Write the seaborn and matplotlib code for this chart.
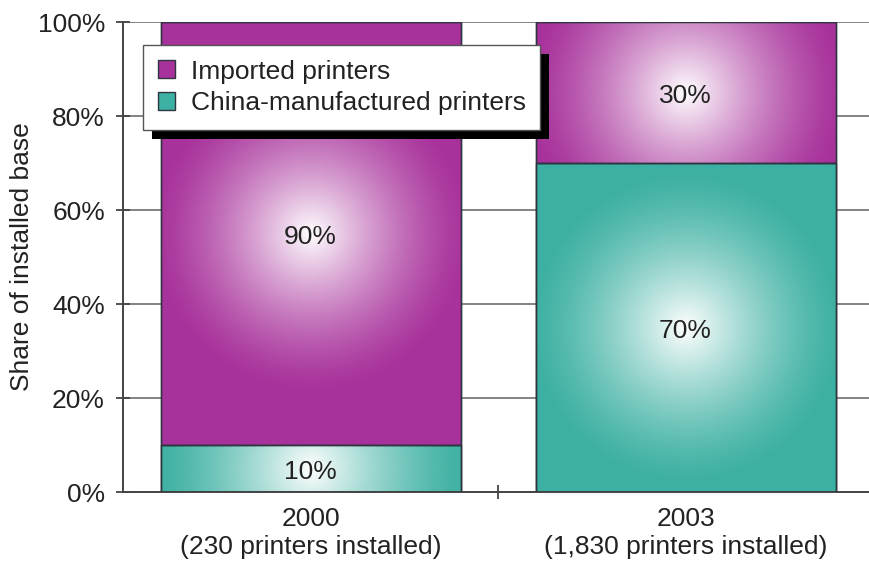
import numpy as np
import pandas as pd
import matplotlib
matplotlib.use("Agg")
import matplotlib.pyplot as plt
import seaborn as sns
from matplotlib.patches import Patch, Rectangle
from matplotlib.transforms import IdentityTransform

# Data
years = ["2000", "2003"]
installed = ["230", "1,830"]
china_share = [10, 70]
imported_share = [90, 30]

PURPLE = "#A8329B"
TEAL = "#3CB0A2"
EDGE = "#2E3440"

sns.set_style("white")
plt.rcParams["font.family"] = ["Liberation Sans", "DejaVu Sans"]
plt.rcParams["font.size"] = 19

labels = [f"{y}\n({n} printers installed)" for y, n in zip(years, installed)]
df = pd.DataFrame({
    "year": labels,
    "china": china_share,
    "imported": imported_share,
})
df["total"] = df["china"] + df["imported"]

fig = plt.figure(figsize=(8.69, 5.65), dpi=100)
ax = fig.add_axes([123 / 869, 73 / 565, 750 / 869, 470 / 565])

# stacked bars: total (imported on top) then china at the bottom
sns.barplot(data=df, x="year", y="total", color=PURPLE, saturation=1,
            width=0.8, edgecolor=EDGE, linewidth=1, ax=ax)
sns.barplot(data=df, x="year", y="china", color=TEAL, saturation=1,
            width=0.8, edgecolor=EDGE, linewidth=1, ax=ax)

ax.set_xlim(-0.5, 1.5)
ax.set_ylim(0, 100)
ax.set_yticks(range(0, 101, 20))
ax.set_yticklabels([f"{v}%" for v in range(0, 101, 20)], color="#222222")
ax.set_xlabel("")
ax.set_ylabel("Share of installed base", color="#222222")
ax.yaxis.set_label_coords(-0.118, 0.5)

ax.set_axisbelow(True)
ax.grid(axis="y", color="#7a7a7a", linewidth=1.3)
ax.grid(axis="x", visible=False)
for s in ["top", "right"]:
    ax.spines[s].set_visible(False)
for s in ["left", "bottom"]:
    ax.spines[s].set_color("#444444")
    ax.spines[s].set_linewidth(1.4)

ax.tick_params(axis="y", direction="inout", length=10, width=1.3,
               color="#444444", pad=8, left=True)
ax.tick_params(axis="x", which="major", length=0, pad=11, colors="#222222")
ax.set_xticks([0.5], minor=True)
ax.tick_params(axis="x", which="minor", direction="inout", length=10,
               width=1.3, color="#444444", bottom=True)
for t in ax.get_xticklabels():
    t.set_linespacing(1.2)


def radial_overlay(x0, x1, y0, y1, radius_px=160):
    # white radial highlight centred on the segment, sized in pixels
    p0 = ax.transData.transform((x0, y0))
    p1 = ax.transData.transform((x1, y1))
    w_px, h_px = abs(p1[0] - p0[0]), abs(p1[1] - p0[1])
    nx, ny = int(w_px), max(int(h_px), 2)
    xs = np.linspace(-w_px / 2, w_px / 2, nx)
    ys = np.linspace(-h_px / 2, h_px / 2, ny)
    X, Y = np.meshgrid(xs, ys)
    r = np.sqrt(X ** 2 + Y ** 2) / radius_px
    alpha = np.clip(1 - r, 0, 1) ** 1.4
    img = np.ones((ny, nx, 4))
    img[..., 3] = alpha
    ax.imshow(img, extent=(x0, x1, y0, y1), origin="lower", aspect="auto",
              interpolation="bilinear", zorder=2.5)


half = 0.4
for i, (c, m) in enumerate(zip(china_share, imported_share)):
    radial_overlay(i - half, i + half, 0, c)
    radial_overlay(i - half, i + half, c, c + m)
    # redraw outlines on top of the highlight
    ax.add_patch(Rectangle((i - half, 0), 2 * half, c, fill=False,
                           edgecolor=EDGE, linewidth=1, zorder=2.6))
    ax.add_patch(Rectangle((i - half, c), 2 * half, m, fill=False,
                           edgecolor=EDGE, linewidth=1, zorder=2.6))
    ax.text(i, c / 2 - 0.8, f"{c}%", ha="center", va="center", fontsize=19,
            color="#222222", zorder=3)
    ax.text(i, c + m / 2 - 0.8, f"{m}%", ha="center", va="center", fontsize=19,
            color="#222222", zorder=3)

ax.set_xlim(-0.5, 1.5)
ax.set_ylim(0, 100)

handles = [
    Patch(facecolor=PURPLE, edgecolor=EDGE, linewidth=1, label="Imported printers"),
    Patch(facecolor=TEAL, edgecolor=EDGE, linewidth=1, label="China-manufactured printers"),
]
leg = ax.legend(handles=handles, loc="upper left", bbox_to_anchor=(0.027, 0.951),
                borderaxespad=0, fancybox=False, framealpha=1, edgecolor="#555555",
                fontsize=19, handlelength=0.65, handleheight=0.65,
                handletextpad=0.6, borderpad=0.55, labelspacing=0.3)
leg.get_frame().set_linewidth(1)
for t in leg.get_texts():
    t.set_color("#222222")

# hard black drop shadow behind the legend box
fig.canvas.draw()
bb = leg.get_window_extent()
ax.add_patch(Rectangle((bb.x0 + 9, bb.y0 - 9), bb.width, bb.height,
                       transform=IdentityTransform(), facecolor="black",
                       edgecolor="none", zorder=4.9, clip_on=False))

fig.savefig("out.png", dpi=100)
